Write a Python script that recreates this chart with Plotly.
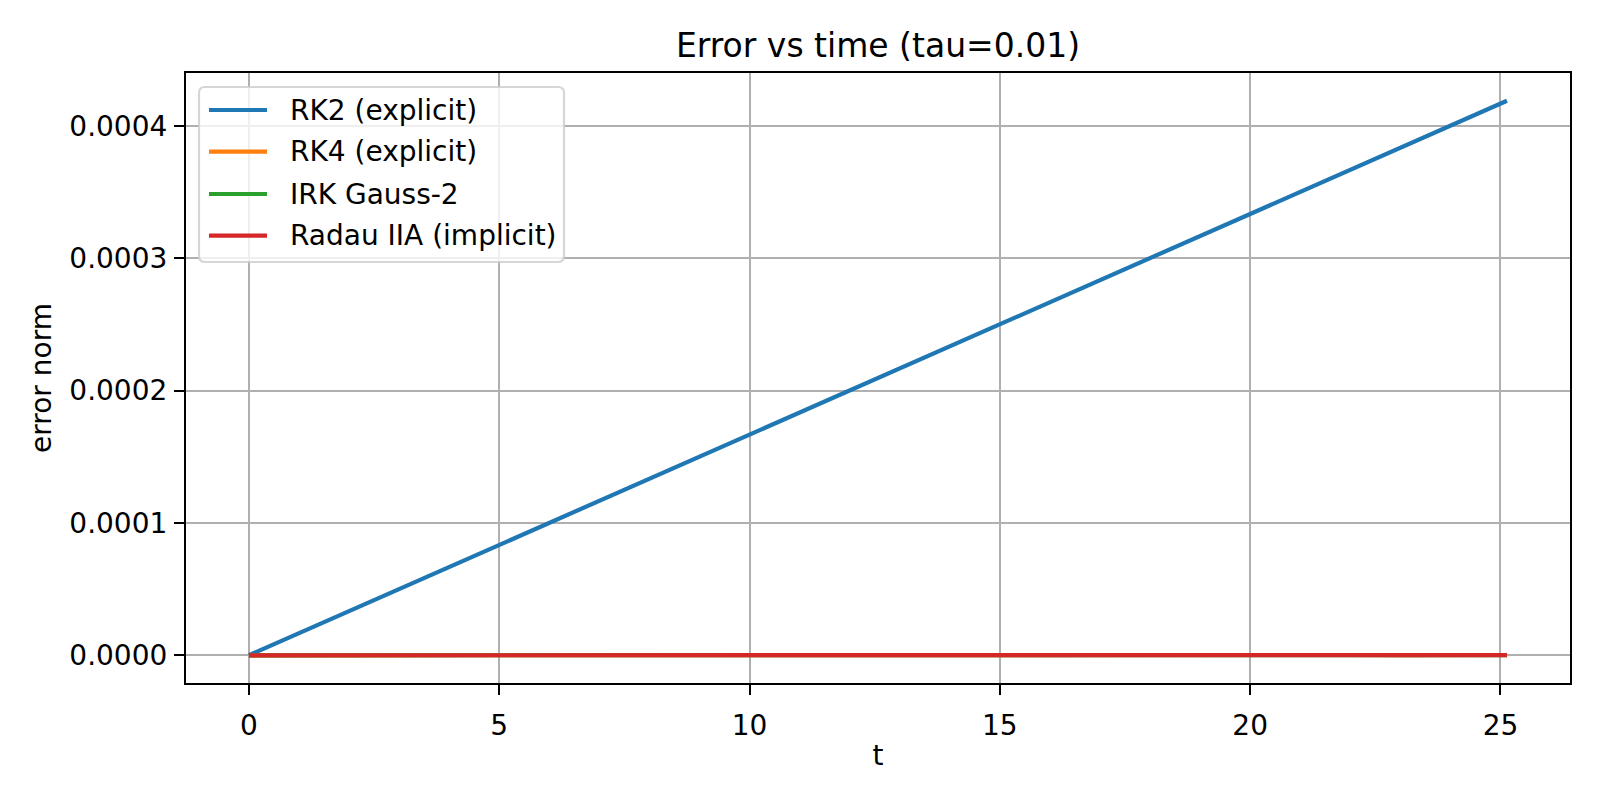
import plotly.graph_objects as go

# time samples (t from 0 to ~8*pi)
t = [0, 1, 2, 3, 4, 5, 6, 7, 8, 9, 10, 11, 12, 13, 14, 15, 16, 17, 18, 19, 20, 21, 22, 23, 24, 25, 25.13]

rk2 = [0.0, 0.0000167, 0.0000334, 0.0000500, 0.0000667, 0.0000834, 0.0001001, 0.0001168, 0.0001334,
       0.0001501, 0.0001668, 0.0001835, 0.0002001, 0.0002168, 0.0002335, 0.0002502, 0.0002668,
       0.0002835, 0.0003002, 0.0003169, 0.0003335, 0.0003502, 0.0003669, 0.0003836, 0.0004002,
       0.0004169, 0.0004190]
rk4 = [0.0, 4e-8, 6e-8, 3e-8, 8e-8, 5e-8, 9e-8, 6e-8, 1.1e-7, 7e-8, 1.2e-7, 9e-8, 1.4e-7, 1.0e-7,
       1.5e-7, 1.2e-7, 1.7e-7, 1.3e-7, 1.8e-7, 1.5e-7, 2.0e-7, 1.6e-7, 2.1e-7, 1.8e-7, 2.3e-7, 1.9e-7, 2.0e-7]
irk_gauss2 = [0.0, 3e-8, 5e-8, 4e-8, 6e-8, 5e-8, 7e-8, 6e-8, 9e-8, 7e-8, 1.0e-7, 8e-8, 1.1e-7, 9e-8,
              1.2e-7, 1.0e-7, 1.3e-7, 1.1e-7, 1.4e-7, 1.2e-7, 1.5e-7, 1.3e-7, 1.6e-7, 1.4e-7, 1.7e-7, 1.5e-7, 1.6e-7]
radau = [0.0, 2e-8, 4e-8, 3e-8, 5e-8, 4e-8, 6e-8, 5e-8, 7e-8, 6e-8, 8e-8, 7e-8, 9e-8, 8e-8,
         1.0e-7, 9e-8, 1.1e-7, 1.0e-7, 1.2e-7, 1.1e-7, 1.3e-7, 1.2e-7, 1.4e-7, 1.3e-7, 1.5e-7, 1.4e-7, 1.4e-7]

names = ["RK2 (explicit)", "RK4 (explicit)", "IRK Gauss-2", "Radau IIA (implicit)"]
colors = ["#1f77b4", "#ff7f0e", "#2ca02c", "#d62728"]
x_ticks = [0, 5, 10, 15, 20, 25]
y_ticks = [0.0, 0.0001, 0.0002, 0.0003, 0.0004]

FONT = "DejaVu Sans"

# ---- layout geometry (pixels of the figure) ----
ML, MR, MT, MB = 178, 38, 65, 125
PW = 1600 - ML - MR
PH = 800 - MT - MB


def px(xpix):  # figure pixel x -> paper
    return (xpix - ML) / PW


def py(ypix):  # figure pixel y -> paper
    return (800 - MB - ypix) / PH


fig = go.Figure()
for name, ys, c in zip(names, [rk2, rk4, irk_gauss2, radau], colors):
    fig.add_trace(go.Scatter(x=t, y=ys, mode="lines", name=name, showlegend=False,
                             line=dict(color=c, width=4.2)))

axis_common = dict(
    showline=True, mirror=True, linecolor="black", linewidth=2.2,
    ticks="outside", ticklen=10, tickwidth=2.2, tickcolor="black",
    showgrid=True, gridcolor="#b0b0b0", gridwidth=2.2, zeroline=False,
    tickfont=dict(family=FONT, size=28, color="black"),
)

# ---- legend drawn in matplotlib style ----
lx0, lx1, ly0, ly1 = 191, 556, 79, 254   # box (figure pixels)
r = 6
X0, X1, Y0, Y1 = px(lx0), px(lx1), py(ly0), py(ly1)
rx, ry = r / PW, r / PH
path = (f"M {X0+rx},{Y0} L {X1-rx},{Y0} Q {X1},{Y0} {X1},{Y0-ry} "
        f"L {X1},{Y1+ry} Q {X1},{Y1} {X1-rx},{Y1} L {X0+rx},{Y1} "
        f"Q {X0},{Y1} {X0},{Y1+ry} L {X0},{Y0-ry} Q {X0},{Y0} {X0+rx},{Y0} Z")
shapes = [dict(type="path", path=path, xref="paper", yref="paper",
               fillcolor="rgba(255,255,255,0.8)", line=dict(color="rgba(204,204,204,0.8)", width=2.2),
               layer="above")]
annotations = []
row_y = [102, 143.7, 186, 227.7]
for name, c, yy in zip(names, colors, row_y):
    shapes.append(dict(type="line", xref="paper", yref="paper", x0=px(201), x1=px(259),
                       y0=py(yy), y1=py(yy), line=dict(color=c, width=4.2), layer="above"))
    annotations.append(dict(text=name, xref="paper", yref="paper", x=px(280), y=py(yy),
                            xanchor="left", yanchor="middle", showarrow=False,
                            font=dict(family=FONT, size=28, color="black")))

fig.update_layout(
    width=1600, height=800,
    paper_bgcolor="white", plot_bgcolor="white",
    margin=dict(l=ML, r=MR, t=MT, b=MB, autoexpand=False),
    font=dict(family=FONT, color="black"),
    title=dict(text="Error vs time (tau=0.01)", x=0.5, xref="paper", y=1 - 37 / 800,
               yref="container", xanchor="center", yanchor="middle",
               font=dict(family=FONT, size=33, color="black")),
    xaxis=dict(range=[-1.2566, 26.389], tickvals=x_ticks,
               title=dict(text="t", font=dict(family=FONT, size=28), standoff=5),
               ticklabelstandoff=6, **axis_common),
    yaxis=dict(range=[-0.00002095, 0.00044], tickvals=y_ticks, tickformat=".4f",
               title=dict(text="error norm", font=dict(family=FONT, size=28), standoff=10),
               ticklabelstandoff=1, **axis_common),
    shapes=shapes,
    annotations=annotations,
    showlegend=False,
)

fig.write_html("out.html")
